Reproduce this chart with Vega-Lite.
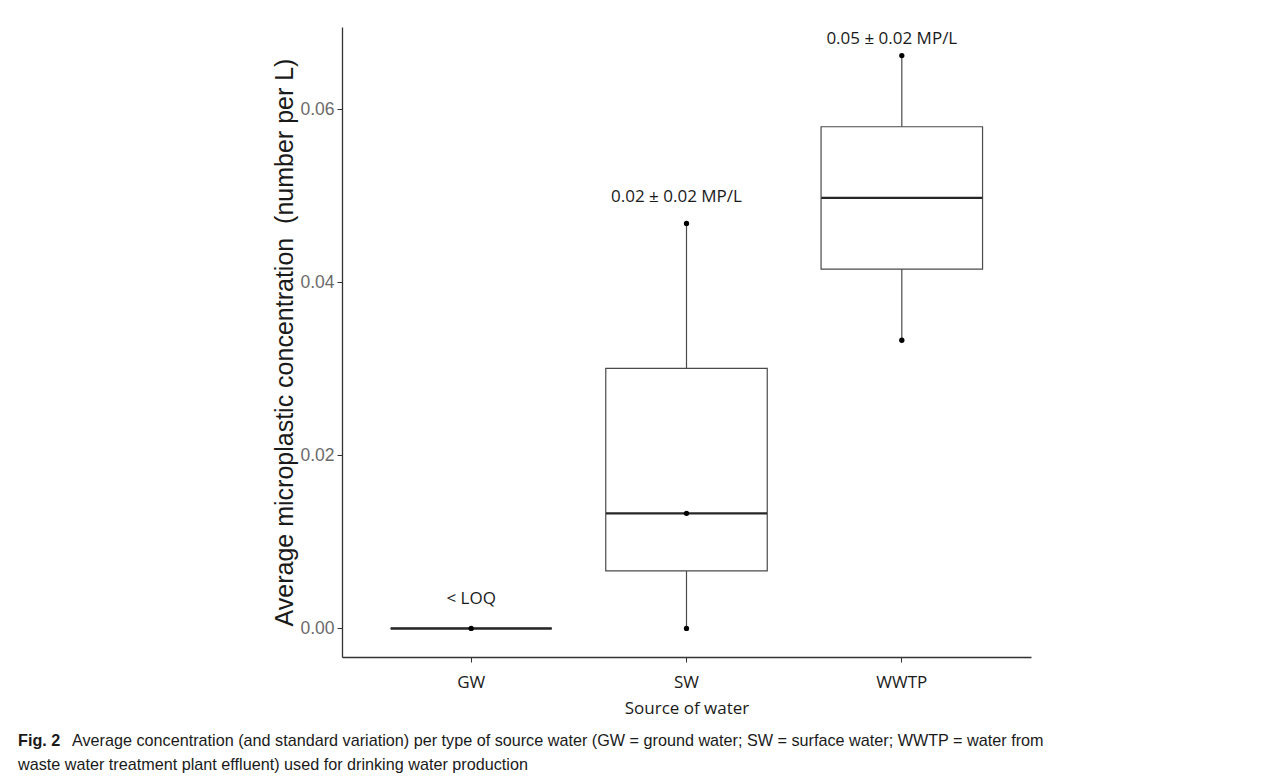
{
  "$schema": "https://vega.github.io/schema/vega-lite/v6.json",
  "autosize": {"type": "pad"},
  "padding": {"left": 18, "top": 27, "right": 5, "bottom": 5},
  "background": "white",
  "config": {"view": {"stroke": null}},
  "title": {
    "text": "Fig. 2",
    "subtitle": "waste water treatment plant effluent) used for drinking water production",
    "orient": "bottom",
    "anchor": "start",
    "frame": "bounds",
    "dx": -54,
    "dy": -16,
    "offset": 0,
    "font": "Liberation Sans",
    "fontSize": 16.2,
    "fontWeight": "bold",
    "color": "#1a1a1a",
    "subtitleFont": "Liberation Sans",
    "subtitleFontSize": 16.2,
    "subtitleFontWeight": "normal",
    "subtitleColor": "#1a1a1a",
    "subtitlePadding": 8
  },
  "vconcat": [
    {
      "width": 689,
      "height": 630,
      "title": {
        "text": "Average concentration (and standard variation) per type of source water (GW = ground water; SW = surface water; WWTP = water from",
        "orient": "bottom",
        "anchor": "start",
        "frame": "group",
        "dx": -270,
        "offset": 17,
        "font": "Liberation Sans",
        "fontSize": 16.2,
        "fontWeight": "normal",
        "color": "#1a1a1a"
      },
      "data": {
        "values": [
          {"source": "GW", "value": 0},
          {"source": "SW", "value": 0},
          {"source": "SW", "value": 0.0133},
          {"source": "SW", "value": 0.0468},
          {"source": "WWTP", "value": 0.0333},
          {"source": "WWTP", "value": 0.0662}
        ]
      },
      "encoding": {
        "x": {
          "field": "source",
          "type": "nominal",
          "sort": ["GW", "SW", "WWTP"],
          "scale": {"paddingInner": 0, "paddingOuter": 0.1},
          "axis": {
            "title": "Source of water",
            "labelAngle": 0,
            "labelFont": "Open Sans",
            "labelFontSize": 17,
            "labelColor": "#1a1a1a",
            "labelPadding": 12,
            "titleFont": "Open Sans",
            "titleFontSize": 17,
            "titleFontWeight": "normal",
            "titleColor": "#1a1a1a",
            "titlePadding": 10,
            "tickSize": 5,
            "tickColor": "#333",
            "domainColor": "#333",
            "domainWidth": 1.3,
            "grid": false
          }
        },
        "y": {
          "field": "value",
          "type": "quantitative",
          "title": "Average microplastic concentration \u00a0(number per L)",
          "scale": {"domain": [-0.0033, 0.0695], "nice": false, "zero": false},
          "axis": {
            "values": [0, 0.02, 0.04, 0.06],
            "format": ".2f",
            "labelFont": "Liberation Sans",
            "labelFontSize": 17.5,
            "labelColor": "#6b6b6b",
            "labelPadding": 3,
            "titleFont": "Liberation Sans",
            "titleFontSize": 25,
            "titleFontWeight": "normal",
            "titleColor": "#1a1a1a",
            "titlePadding": 2,
            "tickSize": 5,
            "tickColor": "#333",
            "domainColor": "#333",
            "domainWidth": 1.3,
            "grid": false
          }
        }
      },
      "layer": [
        {
          "mark": {"type": "rule", "color": "#4a4a4a", "strokeWidth": 1.2},
          "encoding": {
            "y": {"aggregate": "min", "field": "value", "type": "quantitative", "title": "Average microplastic concentration \u00a0(number per L)"},
            "y2": {"aggregate": "q1", "field": "value"}
          }
        },
        {
          "mark": {"type": "rule", "color": "#4a4a4a", "strokeWidth": 1.2},
          "encoding": {
            "y": {"aggregate": "q3", "field": "value", "type": "quantitative", "title": "Average microplastic concentration \u00a0(number per L)"},
            "y2": {"aggregate": "max", "field": "value"}
          }
        },
        {
          "mark": {"type": "bar", "fill": "white", "stroke": "#4a4a4a", "strokeWidth": 1.2, "width": {"band": 0.75}},
          "encoding": {
            "y": {"aggregate": "q1", "field": "value", "type": "quantitative", "title": "Average microplastic concentration \u00a0(number per L)"},
            "y2": {"aggregate": "q3", "field": "value"}
          }
        },
        {
          "mark": {"type": "tick", "color": "#262626", "opacity": 1, "thickness": 2.4, "size": 161},
          "encoding": {
            "y": {"aggregate": "median", "field": "value", "type": "quantitative", "title": "Average microplastic concentration \u00a0(number per L)"}
          }
        },
        {
          "mark": {"type": "point", "filled": true, "color": "black", "opacity": 1, "size": 28}
        },
        {
          "data": {
            "values": [
              {"source": "GW", "value": 0.0034, "label": "< LOQ"}
            ]
          },
          "mark": {"type": "text", "font": "Open Sans", "fontSize": 17, "color": "#1a1a1a", "baseline": "middle", "align": "center"},
          "encoding": {"text": {"field": "label"}}
        },
        {
          "data": {
            "values": [
              {"source": "SW", "value": 0.0499, "label": "0.02 ± 0.02 MP/L"},
              {"source": "WWTP", "value": 0.0681, "label": "0.05 ± 0.02 MP/L"}
            ]
          },
          "mark": {"type": "text", "font": "Open Sans", "fontSize": 17, "color": "#1a1a1a", "baseline": "middle", "align": "center", "dx": -10},
          "encoding": {"text": {"field": "label"}}
        }
      ]
    }
  ]
}
